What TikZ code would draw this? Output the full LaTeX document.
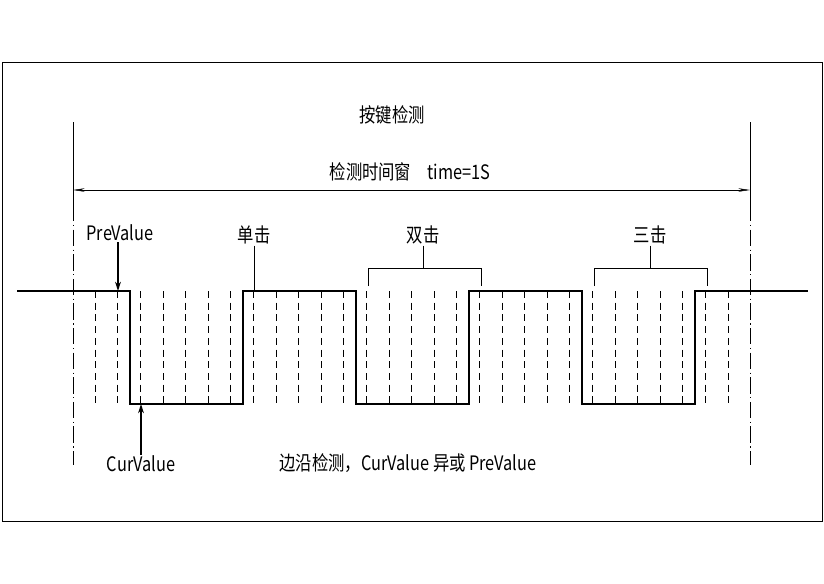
\documentclass[tikz,border=0pt]{standalone}
\usepackage{fontspec}
\setmainfont{Noto Sans CJK SC}
\usetikzlibrary{arrows.meta}
\begin{document}
\begin{tikzpicture}[x=0.03cm,y=-0.03cm]
\tikzset{
    % text labels
    lbl/.style={font=\fontsize{17}{17}\selectfont, inner sep=1pt, xscale=0.82},
    % signal line
    sig/.style={line width=1pt},
    % dashed sampling marks
    tick/.style={dash pattern=on 6pt off 4pt, thin},
    % extension lines
    ext/.style={dash pattern=on 14pt off 3pt on 1pt off 3pt, thin},
    pil/.style={-{Stealth[length=8pt,width=5pt]}, line width=1pt}
}
\useasboundingbox (0,0) rectangle (824,583);
\draw[thick] (2,62) rectangle (822,521);
% extension lines
\coordinate (la) at (73,122); \coordinate (lb) at (73,205); \coordinate (lc) at (73,465);
\coordinate (ra) at (750,122); \coordinate (rb) at (750,205); \coordinate (rc) at (750,465);
\draw (la) -- (lb); \draw[ext] (lb) -- (lc);
\draw (ra) -- (rb); \draw[ext] (rb) -- (rc);
\coordinate (dl) at (73,190); \coordinate (dr) at (750,190);
\draw[{Stealth[length=10pt,width=3pt]}-{Stealth[length=10pt,width=3pt]}, thin] (dl) -- (dr);
% sampling marks
\foreach \i in {0,...,28}
  \draw[tick] (95+22.6*\i,291) -- (95+22.6*\i,404);
% waveform
\draw[sig] (17,291) -- (130,291) -- (130,404) -- (243,404) -- (243,291)
  -- (356,291) -- (356,404) -- (469,404) -- (469,291) -- (582,291)
  -- (582,404) -- (695,404) -- (695,291) -- (808,291);
% labels
\node[lbl] (title) at (392,115) {按键检测};
\node[lbl] (win) at (410,172) {检测时间窗\quad time=1S};
\node[lbl] (pre) at (120,233) {PreValue};
\node[lbl] (cur) at (141,464) {CurValue};
\node[lbl] (one) at (254,235) {单击};
\node[lbl] (two) at (423,235) {双击};
\node[lbl] (three) at (650,235) {三击};
\node[lbl] (edge) at (408,463) {边沿检测，CurValue 异或 PreValue};
\coordinate (pt) at (118,291); \coordinate (ct) at (141,404);
\draw[pil] (pre.south -| pt) -- (pt);
\draw[pil] (cur.north -| ct) -- (ct);
\draw[thick] (one.south) -- (254,291);
\draw[thick] (368,286) -- (368,268) -- (481,268) -- (481,286);
\draw[thick] (two.south) -- (423,268);
\draw[thick] (594,286) -- (594,268) -- (707,268) -- (707,286);
\draw[thick] (three.south) -- (650,268);
\end{tikzpicture}
\end{document}
